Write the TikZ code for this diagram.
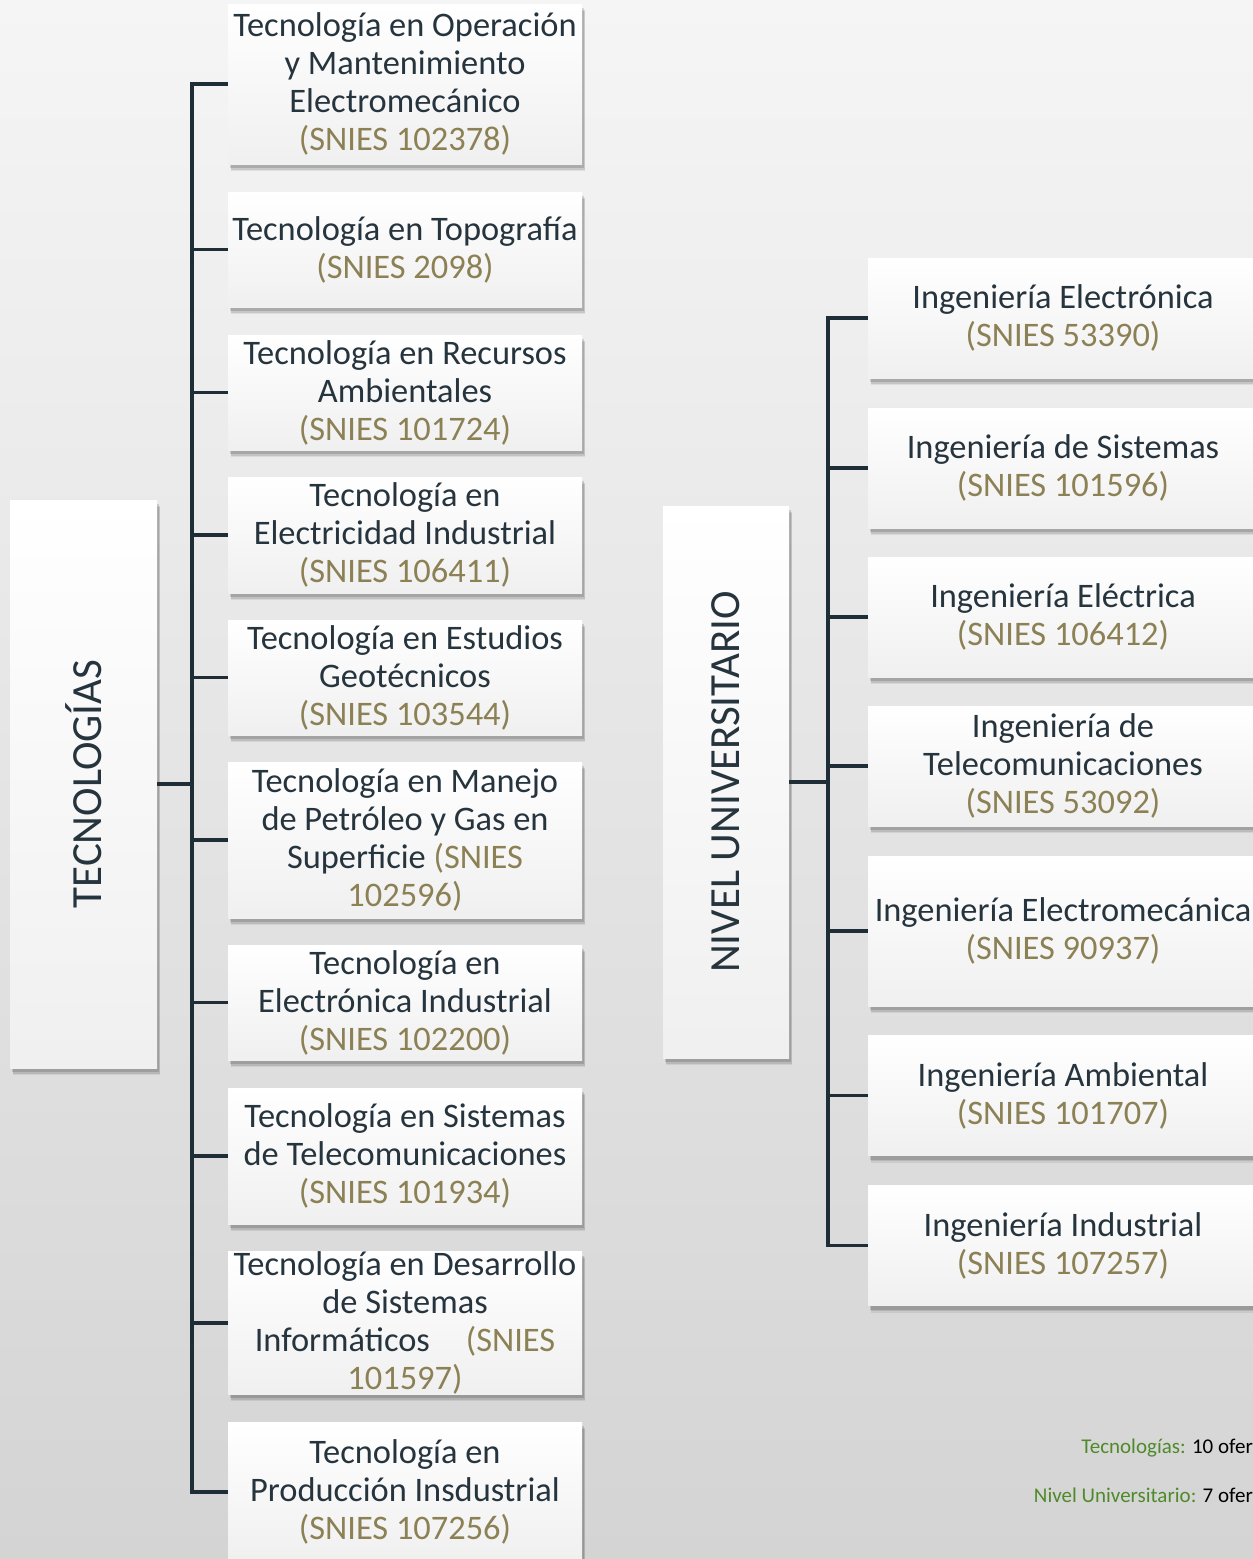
\documentclass[tikz,border=0pt]{standalone}
\usepackage{fontspec}
\setmainfont{Carlito}
\usetikzlibrary{shadows}
\definecolor{txt}{HTML}{26343E}
\definecolor{sniescol}{HTML}{8C8055}
\definecolor{conncol}{HTML}{1F2D36}
\definecolor{footgreen}{HTML}{4F8A2A}
\definecolor{bgtop}{HTML}{F5F5F5}
\definecolor{bgbot}{HTML}{D4D4D4}
\newcommand\snc[1]{\textcolor{sniescol}{#1}}
\tikzset{
  boxbase/.style={rectangle, inner sep=0pt, align=flush center, text=txt,
    top color=white, bottom color=black!6, draw=none,
    drop shadow={shadow xshift=3pt, shadow yshift=-7pt, fill=black, opacity=0.07},
    drop shadow={shadow xshift=2.5pt, shadow yshift=-5.5pt, fill=black, opacity=0.10},
    drop shadow={shadow xshift=2pt, shadow yshift=-4pt, fill=black, opacity=0.14}},
  lbox/.style={boxbase, minimum width=354pt, text width=354pt,
    font=\fontsize{34.4}{38}\selectfont},
  rbox/.style={boxbase, minimum width=390pt, text width=390pt,
    font=\fontsize{34.4}{38}\selectfont},
  catbox/.style={boxbase, font=\fontsize{43}{48}\selectfont},
  conn/.style={draw=conncol, line width=3.8pt, line join=miter},
  foot/.style={anchor=base east, inner sep=0pt, font=\fontsize{21}{25}\selectfont, text=black}
}
\begin{document}
\begin{tikzpicture}[x=1pt,y=-1pt]
\useasboundingbox (0,0) rectangle (1253,1559);
\clip (0,0) rectangle (1253,1559);
\shade[top color=bgtop, bottom color=bgbot] (0,0) rectangle (1253,1559);

% category boxes
\node[catbox, minimum width=147pt, minimum height=568pt] (tec) at (83.5,784) {\rotatebox{90}{TECNOLOGÍAS}};
\node[catbox, minimum width=126pt, minimum height=552pt] (niv) at (726,782) {\rotatebox{90}{NIVEL UNIVERSITARIO}};

% left boxes
\node[lbox, minimum height=160pt] (t1) at (405,84) {Tecnología en Operación\\y Mantenimiento\\Electromecánico\\\snc{(SNIES 102378)}};
\node[lbox, minimum height=115pt] (t2) at (405,249.5) {Tecnología en Topografía\\\snc{(SNIES 2098)}};
\node[lbox, minimum height=115pt] (t3) at (405,392.5) {Tecnología en Recursos\\Ambientales\\\snc{(SNIES 101724)}};
\node[lbox, minimum height=116pt] (t4) at (405,535) {Tecnología en\\Electricidad Industrial\\\snc{(SNIES 106411)}};
\node[lbox, minimum height=115pt] (t5) at (405,677.5) {Tecnología en Estudios\\Geotécnicos\\\snc{(SNIES 103544)}};
\node[lbox, minimum height=156pt] (t6) at (405,840) {Tecnología en Manejo\\de Petróleo y Gas en\\Superficie \snc{(SNIES}\\\snc{102596)}};
\node[lbox, minimum height=115pt] (t7) at (405,1002.5) {Tecnología en\\Electrónica Industrial\\\snc{(SNIES 102200)}};
\node[lbox, minimum height=136pt] (t8) at (405,1156) {Tecnología en Sistemas\\de Telecomunicaciones\\\snc{(SNIES 101934)}};
\node[lbox, minimum height=142pt] (t9) at (405,1323) {Tecnología en Desarrollo\\de Sistemas\\Informáticos\hspace{36pt}\snc{(SNIES}\\\snc{101597)}};
\node[lbox, minimum height=140pt] (t10) at (405,1492) {Tecnología en\\Producción Insdustrial\\\snc{(SNIES 107256)}};

% right boxes
\node[rbox, minimum height=120pt] (u1) at (1063,318) {Ingeniería Electrónica\\\snc{(SNIES 53390)}};
\node[rbox, minimum height=120pt] (u2) at (1063,468) {Ingeniería de Sistemas\\\snc{(SNIES 101596)}};
\node[rbox, minimum height=120pt] (u3) at (1063,617) {Ingeniería Eléctrica\\\snc{(SNIES 106412)}};
\node[rbox, minimum height=120pt] (u4) at (1063,766) {Ingeniería de\\Telecomunicaciones\\\snc{(SNIES 53092)}};
\node[rbox, minimum height=150pt] (u5) at (1063,931) {Ingeniería Electromecánica\\\snc{(SNIES 90937)}};
\node[rbox, minimum height=120pt] (u6) at (1063,1095.5) {Ingeniería Ambiental\\\snc{(SNIES 101707)}};
\node[rbox, minimum height=120pt] (u7) at (1063,1245.5) {Ingeniería Industrial\\\snc{(SNIES 107257)}};

% spine coordinates
\foreach \n/\y in {1/84,2/249.5,3/392.5,4/535,5/677.5,6/840,7/1002.5,8/1156,9/1323,10/1492}
  \coordinate (s\n) at (192,\y);
\coordinate (sm) at (192,784);
\foreach \n/\y in {1/318,2/468,3/617,4/766,5/931,6/1095.5,7/1245.5}
  \coordinate (r\n) at (828,\y);
\coordinate (rm) at (828,782);

% connectors left
\draw[conn] (t1.west) -- (s1) -- (s10) -- (t10.west);
\foreach \n in {2,...,9} \draw[conn] (s\n) -- (t\n.west);
\draw[conn] (tec.east) -- (sm);
% connectors right
\draw[conn] (u1.west) -- (r1) -- (r7) -- (u7.west);
\foreach \n in {2,...,6} \draw[conn] (r\n) -- (u\n.west);
\draw[conn] (niv.east) -- (rm);

% footer
\node[foot] (f1) at (1253,1453) {\textcolor{footgreen}{Tecnologías:} 10 ofer};
\node[foot] (f2) at (1253,1502) {\textcolor{footgreen}{Nivel Universitario:} 7 ofer};
\end{tikzpicture}
\end{document}
